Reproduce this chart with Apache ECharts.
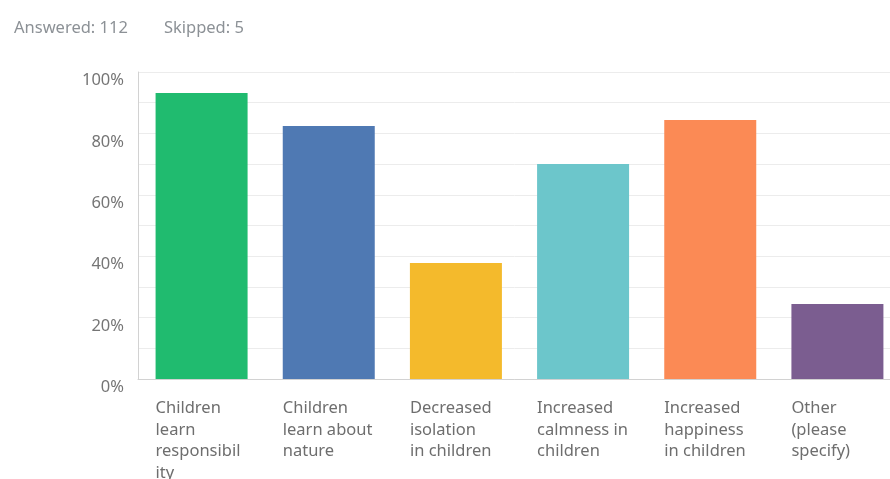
<!DOCTYPE html>
<html>
<head>
<meta charset="utf-8">
<script src="https://cdn.jsdelivr.net/npm/echarts@6/dist/echarts.min.js"></script>
<style>html,body{margin:0;padding:0;background:#fff;}#c{width:890px;height:479px;}</style>
</head>
<body>
<div id="c"></div>
<script>
const categories = [
  "Children\nlearn\nresponsibil\nity",
  "Children\nlearn about\nnature",
  "Decreased\nisolation\nin children",
  "Increased\ncalmness in\nchildren",
  "Increased\nhappiness\nin children",
  "Other\n(please\nspecify)"
];
const values = [93.2, 82.4, 37.8, 70.0, 84.4, 24.4];
const colors = ["#20bb6f", "#4f79b3", "#f4ba2c", "#6cc6cb", "#fb8a55", "#7b5d90"];
const answered = 112;
const skipped = 5;

const chart = echarts.init(document.getElementById('c'), null, {renderer: 'canvas'});
chart.setOption({
  animation: false,
  backgroundColor: '#ffffff',
  title: {
    text: '{a|Answered: ' + answered + '}{gap|}{a|Skipped: ' + skipped + '}',
    left: 9, top: 14,
    textStyle: {
      rich: {
        a: {fontFamily: 'Noto Sans', fontSize: 16.5, fontWeight: 'normal', color: '#8c9196'},
        gap: {width: 36}
      }
    }
  },
  grid: {left: 138, top: 72, height: 307, width: 763, outerBoundsMode: 'none', containLabel: false},
  xAxis: {
    type: 'category',
    data: categories,
    axisTick: {show: false},
    axisLine: {lineStyle: {color: '#d2d2d2', width: 1}},
    axisLabel: {
      interval: 0,
      margin: 19,
      formatter: function (v) {
        return v.split('\n').map(l => '{a|' + l + '}').join('\n');
      },
      rich: {
        a: {width: 92, align: 'left', fontFamily: 'Noto Sans', fontSize: 16.5, color: '#6e6e6e', lineHeight: 21.5}
      }
    }
  },
  yAxis: {
    type: 'value',
    min: 0, max: 100, interval: 10,
    axisLine: {show: true, lineStyle: {color: '#d2d2d2', width: 1}},
    axisTick: {show: false},
    splitLine: {lineStyle: {color: '#ececec', width: 1}},
    axisLabel: {
      margin: 14,
      verticalAlign: 'top',
      fontFamily: 'Noto Sans', fontSize: 16.5, color: '#757575',
      formatter: function (v) { return v % 20 === 0 ? v + '%' : ''; }
    }
  },
  series: [{
    type: 'bar',
    data: values.map((v, i) => ({value: v, itemStyle: {color: colors[i]}})),
    barWidth: 92
  }]
});
</script>
</body>
</html>
